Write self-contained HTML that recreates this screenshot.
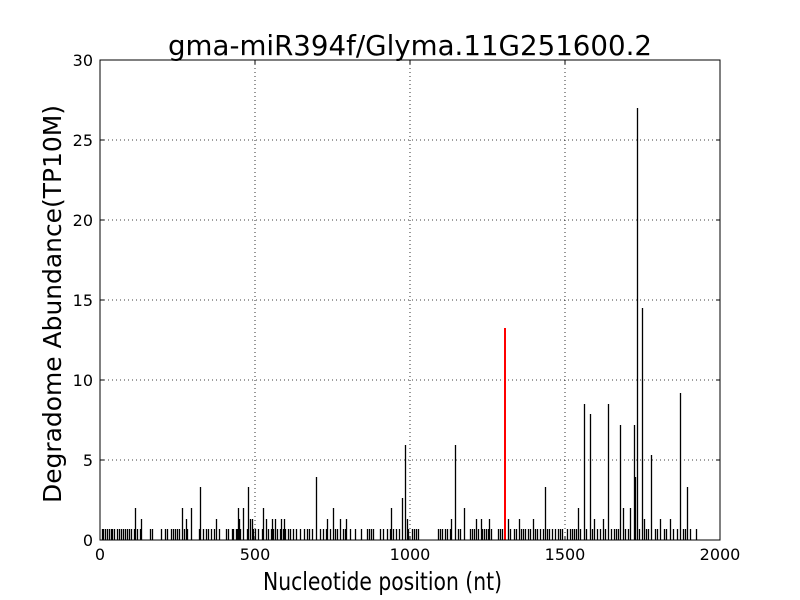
<!DOCTYPE html>
<html><head><meta charset="utf-8"><style>body{margin:0;background:#fff}svg{display:block}</style></head>
<body>
<svg width="800" height="600" xmlns="http://www.w3.org/2000/svg" font-family="DejaVu Sans, Liberation Sans, sans-serif">
<rect width="800" height="600" fill="#fff"/>
<g stroke="#000" stroke-dasharray="1,3" stroke-width="0.8">
<line x1="255" y1="60" x2="255" y2="540"/><line x1="410" y1="60" x2="410" y2="540"/><line x1="565" y1="60" x2="565" y2="540"/>
<line x1="100" y1="460" x2="720" y2="460"/><line x1="100" y1="380" x2="720" y2="380"/><line x1="100" y1="300" x2="720" y2="300"/><line x1="100" y1="220" x2="720" y2="220"/><line x1="100" y1="140" x2="720" y2="140"/>
</g>
<path transform="translate(0.5,0)" stroke="#000" stroke-width="1.3" fill="none" d="
M102 540V529M103 540V529M105 540V529M107 540V529M109 540V529M111 540V529M112 540V529M114 540V529M117 540V529M119 540V529M121 540V529M123 540V529M125 540V529M127 540V529M129 540V529M131 540V529M134 540V529M137 540V529M140 540V529M150 540V529M152 540V529M161 540V529M165 540V529M167 540V529M171 540V529M173 540V529M175 540V529M177 540V529M179 540V529M184 540V529M187 540V529M199 540V529M203 540V529M206 540V529M208 540V529M211 540V529M214 540V529M219 540V529M226 540V529M228 540V529M232 540V529M233 540V529M236 540V529M237 540V529M240 540V529M247 540V529M253 540V529M255 540V529M258 540V529M262 540V529M268 540V529M271 540V529M273 540V529M277 540V529M280 540V529M283 540V529M285 540V529M288 540V529M290 540V529M293 540V529M296 540V529M300 540V529M304 540V529M307 540V529M309 540V529M312 540V529M320 540V529M323 540V529M326 540V529M330 540V529M335 540V529M337 540V529M343 540V529M345 540V529M350 540V529M355 540V529M361 540V529M367 540V529M369 540V529M371 540V529M373 540V529M380 540V529M383 540V529M387 540V529M390 540V529M393 540V529M396 540V529M399 540V529M408 540V529M412 540V529M414 540V529M416 540V529M418 540V529
M438 540V529M440 540V529M442 540V529M445 540V529M447 540V529M450 540V529M458 540V529M460 540V529M470 540V529M472 540V529M474 540V529M478 540V529M482 540V529M484 540V529M486 540V529M488 540V529M491 540V529M498 540V529M500 540V529M502 540V529M510 540V529M514 540V529M516 540V529M519 540V529M521 540V529M523 540V529M525 540V529M528 540V529M530 540V529M535 540V529M537 540V529M540 540V529M543 540V529M547 540V529M549 540V529M552 540V529M555 540V529M558 540V529M560 540V529M562 540V529M567 540V529M570 540V529M572 540V529M574 540V529M576 540V529M580 540V529M586 540V529M592 540V529M597 540V529M600 540V529M605 540V529M611 540V529M614 540V529M616 540V529M618 540V529M625 540V529M628 540V529M639 540V529M646 540V529M648 540V529M655 540V529M657 540V529M664 540V529M666 540V529M673 540V529M677 540V529M683 540V529M685 540V529M690 540V529M696 540V529
M135 540V508M141 540V519M182 540V508M186 540V519M191 540V508M200 540V487M216 540V519M238 540V508M239 540V519M243 540V508M248 540V487M250 540V519M252 540V519M263 540V508M266 540V519M272 540V519M275 540V519M281 540V519M284 540V519M316 540V477M327 540V519M333 540V508M340 540V519M346 540V519M391 540V508M402 540V498M405 540V445M407 540V519
M451 540V519M455 540V445M464 540V508M476 540V519M481 540V519M489 540V519M508 540V519M519 540V519M533 540V519M545 540V487M578 540V508M584 540V404M590 540V414M594 540V519M603 540V519M608 540V404M620 540V425M623 540V508M630 540V508M634 540V425M635 540V477M637 540V108M642 540V308M644 540V519M651 540V455M660 540V519M670 540V519M680 540V393M687 540V487"/>
<line x1="505" y1="540" x2="505" y2="328" stroke="#f00" stroke-width="2"/>
<rect x="100" y="60" width="620" height="480" fill="none" stroke="#000" stroke-width="1"/>
<g stroke="#000" stroke-width="1">
<path d="M255 540v-4M410 540v-4M565 540v-4M255 60v4M410 60v4M565 60v4M100 460h4M100 380h4M100 300h4M100 220h4M100 140h4M720 460h-4M720 380h-4M720 300h-4M720 220h-4M720 140h-4"/>
</g>
<g font-size="16" fill="#000" text-anchor="middle">
<text x="100" y="560">0</text>
<text x="255" y="560">500</text>
<text x="410" y="560">1000</text>
<text x="565" y="560">1500</text>
<text x="720" y="560">2000</text>
</g>
<g font-size="16" text-anchor="end" fill="#000">
<text x="93" y="546">0</text>
<text x="93" y="466">5</text>
<text x="93" y="386">10</text>
<text x="93" y="306">15</text>
<text x="93" y="226">20</text>
<text x="93" y="146">25</text>
<text x="93" y="66">30</text>
</g>
<text x="168" y="55" font-size="28" textLength="484" lengthAdjust="spacingAndGlyphs">gma-miR394f/Glyma.11G251600.2</text>
<text x="263" y="590" font-size="25" textLength="239" lengthAdjust="spacingAndGlyphs">Nucleotide position (nt)</text>
<text transform="translate(61,503) rotate(-90)" font-size="25" textLength="398" lengthAdjust="spacingAndGlyphs">Degradome Abundance(TP10M)</text>
</svg>
</body></html>
